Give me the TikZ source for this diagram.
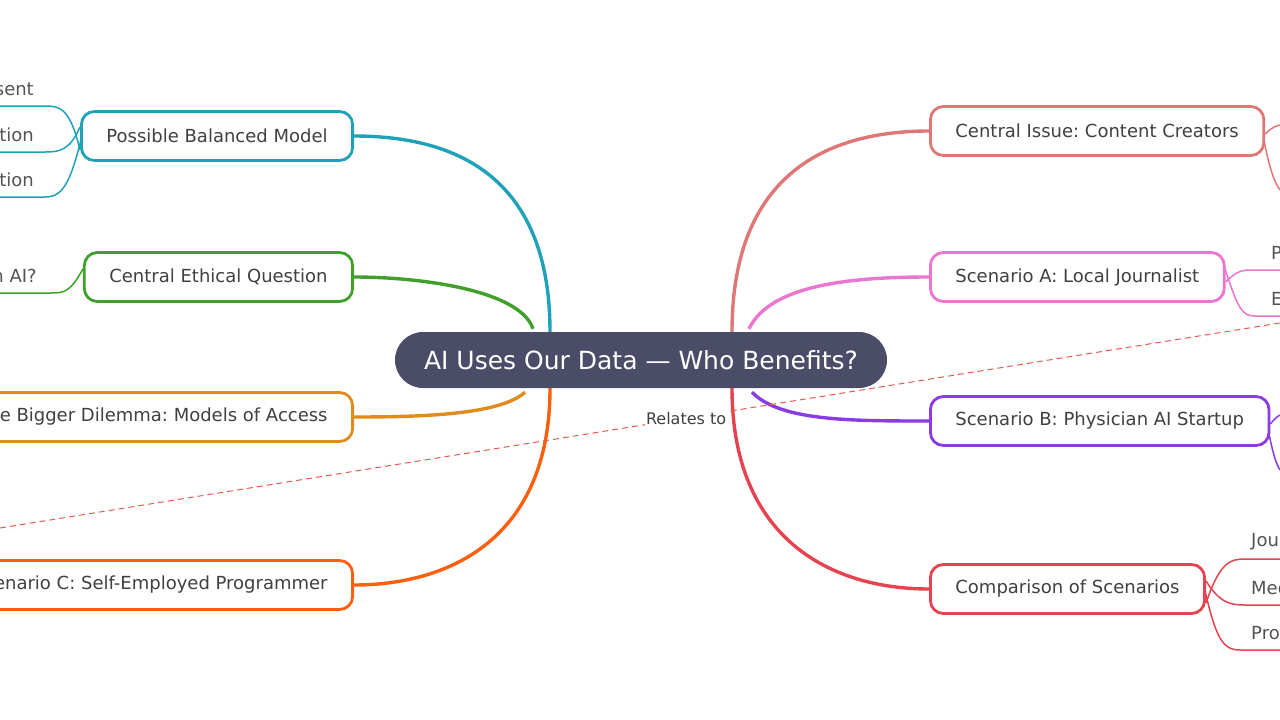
\documentclass[tikz,border=0pt]{standalone}
\usepackage{fontspec}
\setmainfont{DejaVu Sans}
\usetikzlibrary{positioning,backgrounds}
\definecolor{rootc}{HTML}{4B4D68}
\definecolor{tealc}{HTML}{1FA2B8}
\definecolor{greenc}{HTML}{40A02B}
\definecolor{orangec}{HTML}{E08C1A}
\definecolor{redorc}{HTML}{FD5F0F}
\definecolor{salmonc}{HTML}{DF7776}
\definecolor{pinkc}{HTML}{EA76CF}
\definecolor{violc}{HTML}{8A3BE4}
\definecolor{crimc}{HTML}{E4434F}
\definecolor{textc}{HTML}{404040}
\frenchspacing
\tikzset{
  topic/.style={rectangle, rounded corners=13pt, draw, line width=2.8pt, fill=white,
    minimum height=49pt, inner xsep=25pt, text=textc, font=\fontsize{18}{21}\selectfont},
  branch/.style={line width=3.4pt},
  leaf/.style={line width=1.5pt},
  leaftext/.style={text=textc!90, font=\fontsize{18}{21}\selectfont, inner sep=0pt}
}
\begin{document}
\begin{tikzpicture}[x=1pt,y=-1pt]
\useasboundingbox (0,0) rectangle (1280,720);
\node (root) at (641,360) [rectangle, rounded corners=28pt, fill=rootc, text=white,
  minimum width=492pt, minimum height=56pt, font=\fontsize{25}{29}\selectfont]
  {AI Uses Our Data — Who Benefits?};
% left side
\node (balanced) [topic, draw=tealc, anchor=east] at (354,136) {Possible Balanced Model};
\node (ethical) [topic, draw=greenc, anchor=east] at (354,277) {Central Ethical Question};
\node (dilemma) [topic, draw=orangec, anchor=east] at (354,417) {The Bigger Dilemma: Models of Access};
\node (scenc) [topic, draw=redorc, anchor=east] at (354,585) {Scenario C: Self-Employed Programmer};
% right side
\node (issue) [topic, draw=salmonc, anchor=west] at (929,131) {Central Issue: Content Creators};
\node (scena) [topic, draw=pinkc, anchor=west] at (929,277) {Scenario A: Local Journalist};
\node (scenb) [topic, draw=violc, anchor=west] at (929,421) {Scenario B: Physician AI Startup};
\node (compare) [topic, draw=crimc, anchor=west] at (929,589) {Comparison of Scenarios};
% leaf texts
\node (l1) [leaftext, anchor=east] at (34,89) {sent};
\node (l2) [leaftext, anchor=east] at (34,135) {tion};
\node (l3) [leaftext, anchor=east] at (34,180) {tion};
\node (l4) [leaftext, anchor=east] at (37,276) {n AI?};
\node (r1) [leaftext, anchor=west] at (1271,253) {P};
\node (r2) [leaftext, anchor=west] at (1271,299) {E};
\node (r3) [leaftext, anchor=west] at (1251,542) {Jour};
\node (r4) [leaftext, anchor=west] at (1251,588) {Med};
\node (r5) [leaftext, anchor=west] at (1251,633) {Proc};
\begin{pgfonlayer}{background}
% main branches
\draw [branch, tealc] ([xshift=-91pt]root.north) .. controls +(0,-160) and (450,136) .. (balanced.east);
\draw [branch, greenc] ([xshift=-108pt,yshift=3pt]root.north) .. controls (520,290) and (420,277) .. (ethical.east);
\draw [branch, orangec] ([xshift=-116pt,yshift=-4pt]root.south) .. controls (500,415) and (420,417) .. (dilemma.east);
\draw [branch, redorc] ([xshift=-91pt]root.south) .. controls +(0,150) and (450,585) .. (scenc.east);
\draw [branch, salmonc] ([xshift=91pt]root.north) .. controls +(0,-160) and (830,131) .. (issue.west);
\draw [branch, pinkc] ([xshift=108pt,yshift=3pt]root.north) .. controls (770,285) and (850,277) .. (scena.west);
\draw [branch, violc] ([xshift=111pt,yshift=-4pt]root.south) .. controls (780,421) and (850,421) .. (scenb.west);
\draw [branch, crimc] ([xshift=91pt]root.south) .. controls +(0,150) and (830,589) .. (compare.west);
% leaf lines
\draw [leaf, tealc] ([yshift=-14pt]balanced.west) .. controls (70,108) and (60,106) .. (45,106) -- (0,106);
\draw [leaf, tealc] ([yshift=9pt]balanced.west) .. controls (70,150) and (60,152) .. (45,152) -- (0,152);
\draw [leaf, tealc] ([xshift=7pt,yshift=21pt]balanced.west) .. controls (72,180) and (65,197) .. (45,197) -- (0,197);
\draw [leaf, greenc] ([yshift=8pt]ethical.west) .. controls (70,292) and (65,293) .. (50,293) -- (0,293);
\draw [leaf, salmonc] ([yshift=-3pt]issue.east) .. controls (1272,127) and (1276,126) .. (1280,125);
\draw [leaf, salmonc] ([xshift=-6pt,yshift=19pt]issue.east) .. controls (1268,170) and (1275,183) .. (1280,190);
\draw [leaf, pinkc] ([yshift=-5pt]scena.east) .. controls (1238,270) and (1242,270) .. (1255,270) -- (1280,270);
\draw [leaf, pinkc] ([xshift=-3pt,yshift=16pt]scena.east) .. controls (1238,310) and (1242,316) .. (1255,316) -- (1280,316);
\draw [leaf, violc] ([yshift=-3pt]scenb.east) .. controls (1276,417) and (1278,416) .. (1280,415);
\draw [leaf, violc] ([xshift=-7pt,yshift=19pt]scenb.east) .. controls (1272,455) and (1276,463) .. (1280,470);
\draw [leaf, crimc] ([yshift=-14pt]compare.east) .. controls (1220,562) and (1230,559) .. (1245,559) -- (1280,559);
\draw [leaf, crimc] ([yshift=8pt]compare.east) .. controls (1220,603) and (1230,605) .. (1245,605) -- (1280,605);
\draw [leaf, crimc] ([xshift=-6pt,yshift=19pt]compare.east) .. controls (1215,635) and (1220,650) .. (1240,650) -- (1280,650);
\end{pgfonlayer}
% relation
\coordinate (relA) at (0,528);
\coordinate (relB) at (1280,323);
\draw [dashed, dash pattern=on 6pt off 4pt, line width=1pt, color={rgb,255:red,232;green,90;blue,79}]
  (relA) -- node [pos=0.536, fill=white, inner sep=1pt, text=textc, font=\fontsize{16}{19}\selectfont] (rel) {Relates to} (relB);
\end{tikzpicture}
\end{document}
